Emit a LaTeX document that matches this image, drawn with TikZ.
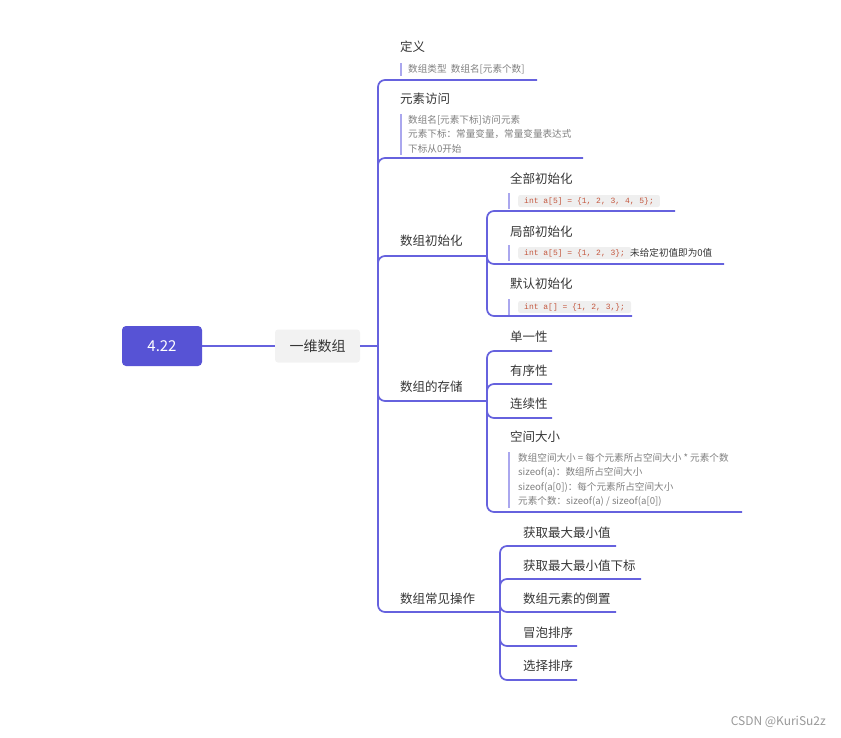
\documentclass[tikz,border=0pt]{standalone}
\usepackage{fontspec}
\setmainfont{Noto Sans CJK SC}
\newfontfamily\codefont{Liberation Mono}
\definecolor{linec}{HTML}{6662DE}
\definecolor{rootc}{HTML}{5753D5}
\definecolor{barc}{HTML}{AAA7EE}
\definecolor{labelc}{HTML}{363636}
\definecolor{notec}{HTML}{7F7F7F}
\definecolor{codebg}{HTML}{EFEFEF}
\definecolor{codetx}{HTML}{C4573E}
\begin{document}
\begin{tikzpicture}[x=1pt,y=-1pt,
  conn/.style={draw=linec,line width=1.7pt,rounded corners=7pt},
  notebar/.style={draw=barc,line width=1.6pt},
  rootbox/.style={fill=rootc,text=white,rounded corners=4pt,minimum width=80pt,minimum height=40pt,font=\fontsize{15}{18}\selectfont,inner sep=0},
  subbox/.style={fill=black!5,text=labelc,rounded corners=3pt,minimum width=85pt,minimum height=33pt,font=\fontsize{14}{17}\selectfont,inner sep=0},
  lbl/.style={anchor=west,inner sep=0,text=labelc,font=\fontsize{12.5}{15}\selectfont},
  note/.style={anchor=west,inner sep=0,text=notec,align=left,font=\fontsize{9.6}{14.4}\selectfont},
  codebox/.style={anchor=west,fill=codebg,text=codetx,rounded corners=2pt,inner xsep=6pt,inner ysep=0,minimum height=12pt,font=\codefont\fontsize{8}{9}\selectfont},
  plain/.style={anchor=west,inner sep=0,text=labelc,font=\fontsize{9.6}{12}\selectfont}]
\useasboundingbox (0,0) rectangle (841,737);

% root and first level
\node[rootbox] (root) at (162,346) {4.22};
\node[subbox] (yw) at (317.5,346) {一维数组};
\coordinate (J0) at (378,346);

% level 1 labels
\node[lbl] (dy) at (400,47) {定义};
\node[note] (dyn) at (408,69) {数组类型\ \ 数组名[元素个数]};
\draw[notebar] (401,63) -- (401,76);
\coordinate (Edy) at (537,80);

\node[lbl] (fw) at (400,99) {元素访问};
\node[note] (fwn) at (408,134) {数组名[元素下标]访问元素\\元素下标：常量变量，常量变量表达式\\下标从0开始};
\draw[notebar] (401,114) -- (401,155);
\coordinate (Efw) at (583,158);

\node[lbl] (init) at (400,241) {数组初始化};
\coordinate (Jinit) at (487,256);

\node[lbl] (store) at (400,387) {数组的存储};
\coordinate (Jstore) at (487,401);

\node[lbl] (ops) at (400,599) {数组常见操作};
\coordinate (Jops) at (500,612);

% init children
\node[lbl] (qb) at (510,179) {全部初始化};
\node[codebox] (c1) at (518,201) {int a[5] = \{1, 2, 3, 4, 5\};};
\draw[notebar] (509,193) -- (509,209);
\coordinate (Eqb) at (675,211);

\node[lbl] (jb) at (510,232) {局部初始化};
\node[codebox] (c2) at (518,253) {int a[5] = \{1, 2, 3\};};
\node[plain] (c2t) at (630,253) {未给定初值即为0值};
\draw[notebar] (509,245) -- (509,261);
\coordinate (Ejb) at (724,264);

\node[lbl] (mr) at (510,284) {默认初始化};
\node[codebox] (c3) at (518,307) {int a[] = \{1, 2, 3,\};};
\draw[notebar] (509,299) -- (509,315);
\coordinate (Emr) at (632,316);

% storage children
\node[lbl] (s1) at (510,337) {单一性};
\coordinate (Es1) at (552,351);
\node[lbl] (s2) at (510,371) {有序性};
\coordinate (Es2) at (552,384);
\node[lbl] (s3) at (510,404) {连续性};
\coordinate (Es3) at (552,418);
\node[lbl] (s4) at (510,437) {空间大小};
\node[note] (s4n) at (518,480) {数组空间大小 = 每个元素所占空间大小 * 元素个数\\sizeof(a)：数组所占空间大小\\sizeof(a[0])：每个元素所占空间大小\\元素个数：sizeof(a) / sizeof(a[0])};
\draw[notebar] (509,452) -- (509,508);
\coordinate (Es4) at (742,512);

% operations children
\node[lbl] (o1) at (523,533) {获取最大最小值};
\coordinate (Eo1) at (616,546);
\node[lbl] (o2) at (523,566) {获取最大最小值下标};
\coordinate (Eo2) at (641,579);
\node[lbl] (o3) at (523,599) {数组元素的倒置};
\coordinate (Eo3) at (616,612);
\node[lbl] (o4) at (523,633) {冒泡排序};
\coordinate (Eo4) at (577,646);
\node[lbl] (o5) at (523,666) {选择排序};
\coordinate (Eo5) at (577,680);

% connectors
\draw[conn] (root.east) -- (yw.west);
\draw[conn] (yw.east) -- (J0);
\foreach \e in {Edy,Efw,Jinit,Jstore,Jops} \draw[conn] (J0) |- (\e);
\foreach \e in {Eqb,Ejb,Emr} \draw[conn] (Jinit) |- (\e);
\foreach \e in {Es1,Es2,Es3,Es4} \draw[conn] (Jstore) |- (\e);
\foreach \e in {Eo1,Eo2,Eo3,Eo4,Eo5} \draw[conn] (Jops) |- (\e);

% watermark
\node[anchor=east,inner sep=0,text=black!40,font=\fontsize{12}{14}\selectfont] (wm) at (826,722) {CSDN @KuriSu2z};
\end{tikzpicture}
\end{document}
